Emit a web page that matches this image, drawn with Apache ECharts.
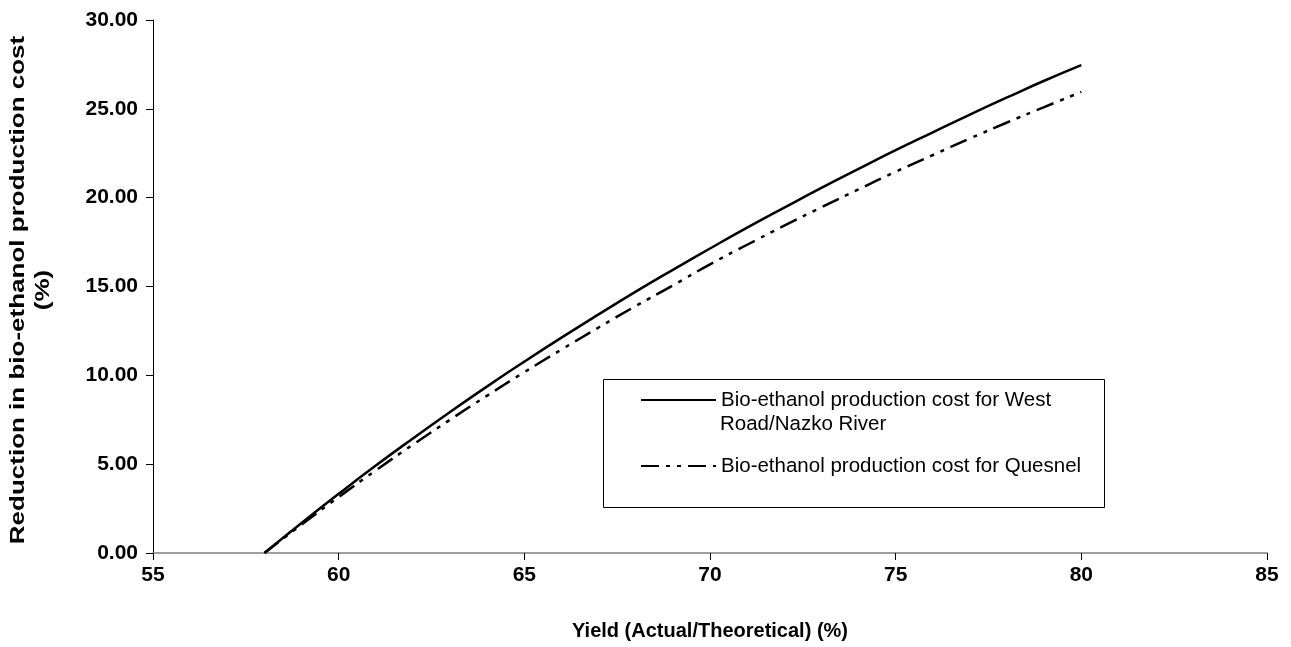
<!DOCTYPE html>
<html>
<head>
<meta charset="utf-8">
<script src="https://cdn.jsdelivr.net/npm/echarts@6/dist/echarts.min.js"></script>
<style>
html,body{margin:0;padding:0;background:#fff;}
#chart{width:1291px;height:647px;}
</style>
</head>
<body>
<div id="chart"></div>
<script>
// Data
const yieldPct = [58,59,60,61,62,63,64,65,66,67,68,69,70,71,72,73,74,75,76,77,78,79,80];
const westRoad = [0,1.69,3.33,4.92,6.45,7.94,9.38,10.77,12.12,13.43,14.71,15.94,17.14,18.31,19.44,20.55,21.62,22.67,23.68,24.68,25.64,26.58,27.46];
const quesnel  = [0,1.60,3.15,4.65,6.10,7.50,8.86,10.18,11.45,12.69,13.90,15.06,16.25,17.35,18.42,19.46,20.47,21.46,22.40,23.33,24.23,25.10,25.95];
const seriesNames = ['Bio-ethanol production cost for West Road/Nazko River','Bio-ethanol production cost for Quesnel'];
const legendLabels = ['Bio-ethanol production cost for West','Bio-ethanol production cost for Quesnel'];
const legendExtraLine = 'Road/Nazko River';
const xTitle = 'Yield (Actual/Theoretical) (%)';
const yTitle = 'Reduction in bio-ethanol production cost\n(%)';

const FONT = 'Arial, "Liberation Sans", sans-serif';
const chart = echarts.init(document.getElementById('chart'));
const pair = (xs, ys) => xs.map((x, i) => [x, ys[i]]);

chart.setOption({
  animation: false,
  backgroundColor: '#fff',
  grid: {left: 153, right: 24, top: 20, bottom: 94, containLabel: false},
  xAxis: {
    type: 'value', min: 55, max: 85, interval: 5,
    name: xTitle, nameLocation: 'middle', nameGap: 68,
    nameTextStyle: {fontFamily: FONT, fontWeight: 'bold', fontSize: 20, color: '#000'},
    axisLine: {onZero: false, lineStyle: {color: '#808080', width: 1.5}},
    axisTick: {show: true, inside: false, length: 7, lineStyle: {color: '#000', width: 1}},
    axisLabel: {fontFamily: FONT, fontWeight: 'bold', fontSize: 21, color: '#000', margin: 12},
    splitLine: {show: false}
  },
  yAxis: {
    type: 'value', min: 0, max: 30, interval: 5,
    axisLine: {show: true, lineStyle: {color: '#000', width: 1}},
    axisTick: {show: true, inside: false, length: 7, lineStyle: {color: '#000', width: 1}},
    axisLabel: {fontFamily: FONT, fontWeight: 'bold', fontSize: 21, color: '#000', margin: 15,
      formatter: v => v.toFixed(2)},
    splitLine: {show: false}
  },
  legend: {
    orient: 'vertical', left: 640, top: 388, padding: 0, itemWidth: 75, itemHeight: 14, itemGap: 42,
    data: seriesNames,
    formatter: name => legendLabels[seriesNames.indexOf(name)],
    itemStyle: {opacity: 0},
    textStyle: {fontFamily: FONT, fontSize: 20.5, color: '#000', lineHeight: 24},
    selectedMode: false
  },
  graphic: [
    {type: 'rect', left: 601, top: 377, shape: {width: 501, height: 128}, style: {fill: 'none', stroke: '#000', lineWidth: 1}, z: 0},
    {type: 'text', x: 720, y: 424, style: {text: legendExtraLine, font: '20.5px ' + FONT, fill: '#000', textVerticalAlign: 'middle'}},
    {type: 'text', x: 31, y: 290, rotation: Math.PI / 2, scaleX: 1.3,
      style: {text: yTitle, font: 'bold 20px ' + FONT, fill: '#000', textAlign: 'center', textVerticalAlign: 'middle', lineHeight: 25}}
  ],
  series: [
    {name: seriesNames[0], type: 'line', data: pair(yieldPct, westRoad), smooth: true, showSymbol: false, symbol: 'none',
      lineStyle: {color: '#000', width: 2.5, type: 'solid'}, itemStyle: {color: '#000'}},
    {name: seriesNames[1], type: 'line', data: pair(yieldPct, quesnel), smooth: true, showSymbol: false, symbol: 'none',
      lineStyle: {color: '#000', width: 2.5, type: [18, 7, 4, 7, 4, 7]}, itemStyle: {color: '#000'}}
  ]
});
</script>
</body>
</html>
